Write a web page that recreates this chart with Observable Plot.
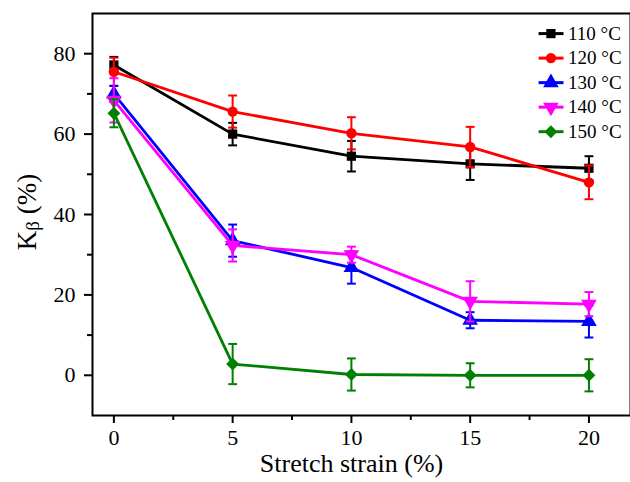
<!DOCTYPE html>
<html>
<head>
<meta charset="utf-8">
<script src="https://cdn.jsdelivr.net/npm/d3@7"></script>
<script src="https://cdn.jsdelivr.net/npm/@observablehq/plot@0.6"></script>
<style>
  html, body { margin: 0; padding: 0; background: white; }
  #chart { width: 630px; height: 482px; }
</style>
</head>
<body>
<div id="chart"></div>
<script>
// ---- data ----
const strain = [0, 5, 10, 15, 20];
const seriesLabels = ["110 °C", "120 °C", "130 °C", "140 °C", "150 °C"];
const seriesColors = ["#000000", "#ff0000", "#0000ff", "#ff00ff", "#008000"];
const k110 = [77.2, 60.0, 54.5, 52.6, 51.5];
const e110 = [2.0, 2.8, 3.8, 4.0, 3.0];
const k120 = [75.5, 65.6, 60.2, 56.8, 48.0];
const e120 = [3.5, 4.0, 4.0, 5.0, 4.2];
const k130 = [70.0, 33.5, 26.8, 13.7, 13.4];
const e130 = [2.0, 4.0, 4.0, 2.0, 4.0];
const k140 = [68.4, 32.3, 30.0, 18.4, 17.7];
const e140 = [5.5, 4.0, 2.0, 5.0, 3.0];
const k150 = [65.2, 2.8, 0.2, 0.0, 0.0];
const e150 = [3.5, 5.0, 4.0, 3.0, 4.0];
const xTicks = [0, 5, 10, 15, 20];
const xMinor = [2.5, 7.5, 12.5, 17.5];
const yTicks = [0, 20, 40, 60, 80];
const yMinor = [10, 30, 50, 70];

const FONT = "'Liberation Serif', 'Times New Roman', serif";

// ---- symbols ----
const triDown = {
  draw(ctx, size) {
    const y = -Math.sqrt(size / (Math.sqrt(3) * 3));
    ctx.moveTo(0, -2 * y);
    ctx.lineTo(-Math.sqrt(3) * y, y);
    ctx.lineTo(Math.sqrt(3) * y, y);
    ctx.closePath();
  }
};
const capSym = {
  draw(ctx, size) {
    const w = Math.sqrt(size) / 2;
    ctx.moveTo(-w, 0);
    ctx.lineTo(w, 0);
  }
};
const symbols = [d3.symbolSquare, d3.symbolCircle, d3.symbolTriangle, triDown, d3.symbolDiamond2];
const symR = [5.2, 5.2, 5.8, 5.8, 5.8];

const values = [k110, k120, k130, k140, k150];
const errors = [e110, e120, e130, e140, e150];

const series = values.map((vals, i) =>
  strain.map((x, j) => ({x, y: vals[j], e: errors[i][j], s: seriesLabels[i]}))
);

const marks = [];
series.forEach((data, i) => {
  const c = seriesColors[i];
  marks.push(Plot.ruleX(data, {x: "x", y1: d => d.y - d.e, y2: d => d.y + d.e, stroke: c, strokeWidth: 2}));
  marks.push(Plot.dot(data, {x: "x", y: d => d.y - d.e, symbol: capSym, r: 5, stroke: c, strokeWidth: 2, fill: "none"}));
  marks.push(Plot.dot(data, {x: "x", y: d => d.y + d.e, symbol: capSym, r: 5, stroke: c, strokeWidth: 2, fill: "none"}));
  marks.push(Plot.line(data, {x: "x", y: "y", stroke: c, strokeWidth: 2.8}));
  marks.push(Plot.dot(data, {x: "x", y: "y", symbol: symbols[i], r: symR[i], fill: c, stroke: "none"}));
});

// legend (inside top-right of frame)
const legend = seriesLabels.map((label, i) => ({label, i, y: 85 - 6.1 * i}));
legend.forEach(d => {
  const c = seriesColors[d.i];
  marks.push(Plot.link([d], {x1: 17.88, x2: 18.93, y1: "y", y2: "y", stroke: c, strokeWidth: 3}));
  marks.push(Plot.dot([d], {x: 18.4, y: "y", symbol: symbols[d.i], r: symR[d.i], fill: c, stroke: "none"}));
});
marks.push(Plot.text(legend, {x: 19.12, y: "y", text: "label", textAnchor: "start", fontSize: 19, fill: "black", fontFamily: FONT}));

const plot = Plot.plot({
  width: 630,
  height: 482,
  marginLeft: 92,
  marginTop: 13,
  marginRight: 0,
  marginBottom: 67,
  x: {domain: [-0.9, 21.75]},
  y: {domain: [-10, 90]},
  style: {fontFamily: FONT, fontSize: "22px", background: "white", color: "black"},
  marks: [
    Plot.axisY({ticks: yTicks, tickSize: 8, tickFormat: () => "", label: null, strokeWidth: 2}),
    Plot.axisY({ticks: yMinor, tickSize: 5, tickFormat: () => "", label: null, strokeWidth: 2}),
    Plot.axisX({ticks: xTicks, tickSize: 8, tickFormat: () => "", label: null, strokeWidth: 2}),
    Plot.axisX({ticks: xMinor, tickSize: 5, tickFormat: () => "", label: null, strokeWidth: 2}),
    Plot.text(yTicks, {y: d => d, text: d => String(d), frameAnchor: "left", dx: -17, textAnchor: "end", fontSize: 22, fontFamily: FONT, fill: "black"}),
    Plot.text(xTicks, {x: d => d, text: d => String(d), frameAnchor: "bottom", dy: 29, fontSize: 22, fontFamily: FONT, fill: "black"}),
    ...marks,
    Plot.frame({stroke: "black", strokeWidth: 2}),
    Plot.text(["Stretch strain (%)"], {frameAnchor: "bottom", dx: -10, dy: 56, fontSize: 26, fill: "black", fontFamily: FONT})
  ]
});

// y-axis label with subscript beta
const svg = d3.select(plot);
const yl = svg.append("text")
  .attr("transform", "translate(27,212) rotate(-90)")
  .attr("text-anchor", "middle")
  .attr("dominant-baseline", "central")
  .attr("font-family", FONT)
  .attr("font-size", 27)
  .attr("fill", "black");
yl.append("tspan").text("K");
yl.append("tspan").attr("baseline-shift", "-30%").attr("font-size", 19).text("β");
yl.append("tspan").text(" (%)");

document.getElementById("chart").appendChild(plot);
</script>
</body>
</html>
